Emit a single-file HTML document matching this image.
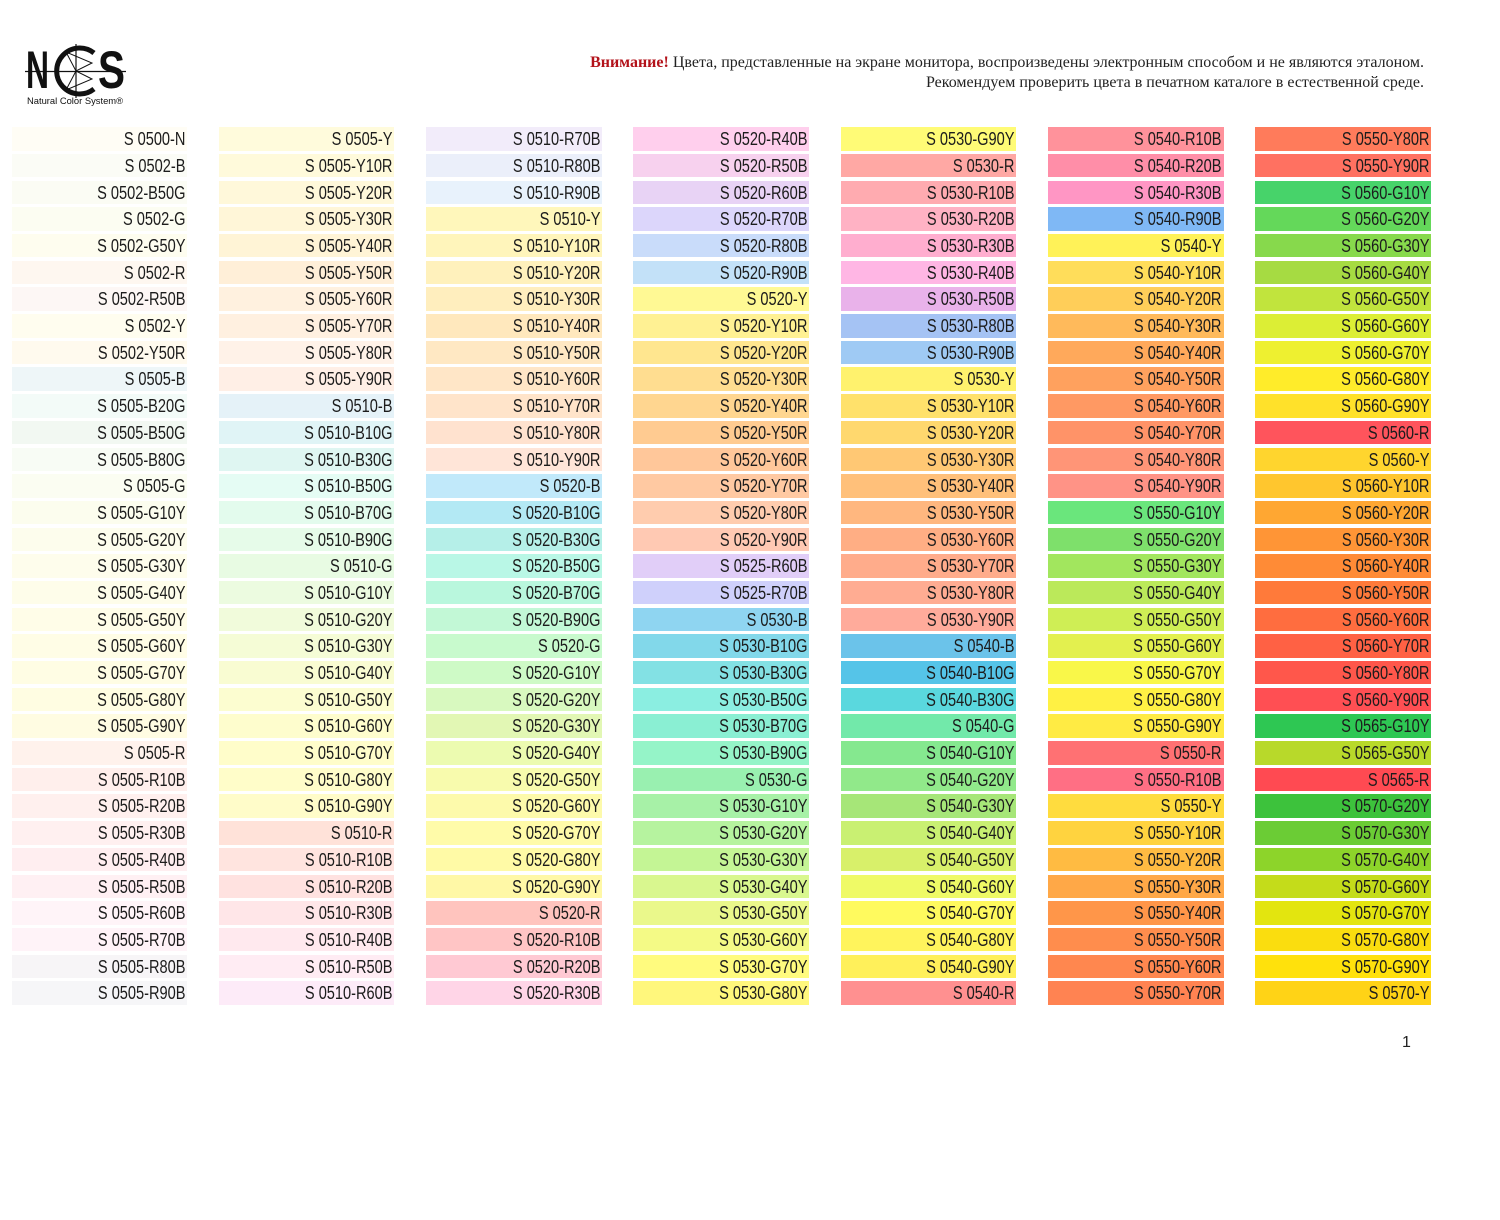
<!DOCTYPE html>
<html><head><meta charset="utf-8">
<style>
html,body{margin:0;padding:0;background:#fff;}
body{width:1500px;height:1220px;position:relative;overflow:hidden;font-family:"Liberation Sans",Arial,sans-serif;}
.col{position:absolute;top:127.3px;width:175.5px;}
.col div{height:23.4px;margin-bottom:3.3px;text-align:right;line-height:23.4px;font-size:18px;color:#1c1c1c;white-space:nowrap;overflow:visible;}
.col div span{display:inline-block;transform:scaleX(0.81);transform-origin:right center;padding-right:2px;position:relative;top:1px;}
#warn{position:absolute;right:76px;top:53px;font-family:"Liberation Serif","Times New Roman",serif;font-size:16px;color:#222;text-align:right;line-height:19.5px;}
#warn b{color:#b3131b;}
#pg{position:absolute;left:1402px;top:1034px;font-size:16px;color:#222;}
</style></head><body>
<svg style="position:absolute;left:0;top:0" width="140" height="115">
<g fill="none" stroke="#111">
<path d="M94 53 A23 23 0 1 0 94 89" stroke-width="5"/>
<line x1="25" y1="71.5" x2="126" y2="71.5" stroke-width="1.2"/>
<line x1="76" y1="44" x2="76" y2="98" stroke-width="1.2"/>
<path d="M76 71 L66 52 L92 63 Z M76 71 L66 90 L92 79 Z" stroke-width="1"/>
</g>
<text x="26" y="88" font-family="Liberation Sans" font-weight="bold" font-size="53" textLength="23" lengthAdjust="spacingAndGlyphs" fill="#111">N</text>
<text x="98" y="88" font-family="Liberation Sans" font-weight="bold" font-size="53" textLength="27" lengthAdjust="spacingAndGlyphs" fill="#111">S</text>
<text x="27" y="104" font-family="Liberation Sans" font-size="9.5" textLength="96" lengthAdjust="spacingAndGlyphs" fill="#111">Natural Color System®</text>
</svg>
<div id="warn"><b>Внимание!</b> Цвета, представленные на экране монитора, воспроизведены электронным способом и не являются эталоном.<br>Рекомендуем проверить цвета в печатном каталоге в естественной среде.</div>

<div class="col" style="left:11.5px">
<div style="background:#fffdf5"><span>S 0500-N</span></div>
<div style="background:#fbfcf6"><span>S 0502-B</span></div>
<div style="background:#fbfcf4"><span>S 0502-B50G</span></div>
<div style="background:#fcfdf2"><span>S 0502-G</span></div>
<div style="background:#fefdef"><span>S 0502-G50Y</span></div>
<div style="background:#fef7f0"><span>S 0502-R</span></div>
<div style="background:#fdf7f5"><span>S 0502-R50B</span></div>
<div style="background:#fffdef"><span>S 0502-Y</span></div>
<div style="background:#fffaee"><span>S 0502-Y50R</span></div>
<div style="background:#eef6f8"><span>S 0505-B</span></div>
<div style="background:#f3fbf8"><span>S 0505-B20G</span></div>
<div style="background:#f2f8f2"><span>S 0505-B50G</span></div>
<div style="background:#f8fcf5"><span>S 0505-B80G</span></div>
<div style="background:#fbfdf2"><span>S 0505-G</span></div>
<div style="background:#fcfdee"><span>S 0505-G10Y</span></div>
<div style="background:#fdfded"><span>S 0505-G20Y</span></div>
<div style="background:#fefdec"><span>S 0505-G30Y</span></div>
<div style="background:#fefdea"><span>S 0505-G40Y</span></div>
<div style="background:#fffde8"><span>S 0505-G50Y</span></div>
<div style="background:#fffde6"><span>S 0505-G60Y</span></div>
<div style="background:#fffde4"><span>S 0505-G70Y</span></div>
<div style="background:#fffde2"><span>S 0505-G80Y</span></div>
<div style="background:#fffce2"><span>S 0505-G90Y</span></div>
<div style="background:#fff2ec"><span>S 0505-R</span></div>
<div style="background:#ffefec"><span>S 0505-R10B</span></div>
<div style="background:#fff0ee"><span>S 0505-R20B</span></div>
<div style="background:#fff0f0"><span>S 0505-R30B</span></div>
<div style="background:#ffeef0"><span>S 0505-R40B</span></div>
<div style="background:#fff0f3"><span>S 0505-R50B</span></div>
<div style="background:#fff4f8"><span>S 0505-R60B</span></div>
<div style="background:#fff3f8"><span>S 0505-R70B</span></div>
<div style="background:#f7f5f7"><span>S 0505-R80B</span></div>
<div style="background:#f6f6f8"><span>S 0505-R90B</span></div>
</div>

<div class="col" style="left:218.8px">
<div style="background:#fffbdc"><span>S 0505-Y</span></div>
<div style="background:#fffadb"><span>S 0505-Y10R</span></div>
<div style="background:#fff8da"><span>S 0505-Y20R</span></div>
<div style="background:#fff6d8"><span>S 0505-Y30R</span></div>
<div style="background:#fff4d6"><span>S 0505-Y40R</span></div>
<div style="background:#ffefd8"><span>S 0505-Y50R</span></div>
<div style="background:#fff1df"><span>S 0505-Y60R</span></div>
<div style="background:#fff0e0"><span>S 0505-Y70R</span></div>
<div style="background:#fff2e8"><span>S 0505-Y80R</span></div>
<div style="background:#ffefe6"><span>S 0505-Y90R</span></div>
<div style="background:#e5f2f8"><span>S 0510-B</span></div>
<div style="background:#e0f4f6"><span>S 0510-B10G</span></div>
<div style="background:#dff6f2"><span>S 0510-B30G</span></div>
<div style="background:#e5fcf4"><span>S 0510-B50G</span></div>
<div style="background:#e3fbed"><span>S 0510-B70G</span></div>
<div style="background:#e6fbe9"><span>S 0510-B90G</span></div>
<div style="background:#e8fbe3"><span>S 0510-G</span></div>
<div style="background:#ecfbe0"><span>S 0510-G10Y</span></div>
<div style="background:#f1fbdb"><span>S 0510-G20Y</span></div>
<div style="background:#f5fcd6"><span>S 0510-G30Y</span></div>
<div style="background:#f9fcd2"><span>S 0510-G40Y</span></div>
<div style="background:#fcfdd0"><span>S 0510-G50Y</span></div>
<div style="background:#fefdcd"><span>S 0510-G60Y</span></div>
<div style="background:#fffdca"><span>S 0510-G70Y</span></div>
<div style="background:#fffdc9"><span>S 0510-G80Y</span></div>
<div style="background:#fffcc9"><span>S 0510-G90Y</span></div>
<div style="background:#ffe2d9"><span>S 0510-R</span></div>
<div style="background:#ffe4df"><span>S 0510-R10B</span></div>
<div style="background:#ffe2e0"><span>S 0510-R20B</span></div>
<div style="background:#ffe6e8"><span>S 0510-R30B</span></div>
<div style="background:#ffe9ee"><span>S 0510-R40B</span></div>
<div style="background:#ffecf3"><span>S 0510-R50B</span></div>
<div style="background:#fdebf8"><span>S 0510-R60B</span></div>
</div>

<div class="col" style="left:426.1px">
<div style="background:#f2ecfa"><span>S 0510-R70B</span></div>
<div style="background:#ebeffa"><span>S 0510-R80B</span></div>
<div style="background:#e8f2fc"><span>S 0510-R90B</span></div>
<div style="background:#fff7bb"><span>S 0510-Y</span></div>
<div style="background:#fff5bb"><span>S 0510-Y10R</span></div>
<div style="background:#fff1bc"><span>S 0510-Y20R</span></div>
<div style="background:#ffeebe"><span>S 0510-Y30R</span></div>
<div style="background:#ffe8bd"><span>S 0510-Y40R</span></div>
<div style="background:#ffe8c3"><span>S 0510-Y50R</span></div>
<div style="background:#ffe6c7"><span>S 0510-Y60R</span></div>
<div style="background:#ffe4ca"><span>S 0510-Y70R</span></div>
<div style="background:#ffe2cf"><span>S 0510-Y80R</span></div>
<div style="background:#ffe5d8"><span>S 0510-Y90R</span></div>
<div style="background:#c1e9fa"><span>S 0520-B</span></div>
<div style="background:#b3e9f4"><span>S 0520-B10G</span></div>
<div style="background:#b5efe8"><span>S 0520-B30G</span></div>
<div style="background:#b9f7e6"><span>S 0520-B50G</span></div>
<div style="background:#b9f7dd"><span>S 0520-B70G</span></div>
<div style="background:#c2f8d6"><span>S 0520-B90G</span></div>
<div style="background:#c8facd"><span>S 0520-G</span></div>
<div style="background:#cefac6"><span>S 0520-G10Y</span></div>
<div style="background:#d8f9bf"><span>S 0520-G20Y</span></div>
<div style="background:#e2f7b4"><span>S 0520-G30Y</span></div>
<div style="background:#ecfbb0"><span>S 0520-G40Y</span></div>
<div style="background:#f8fbad"><span>S 0520-G50Y</span></div>
<div style="background:#fdfaab"><span>S 0520-G60Y</span></div>
<div style="background:#fffba9"><span>S 0520-G70Y</span></div>
<div style="background:#fffaa6"><span>S 0520-G80Y</span></div>
<div style="background:#fff8a6"><span>S 0520-G90Y</span></div>
<div style="background:#ffc4be"><span>S 0520-R</span></div>
<div style="background:#ffc5c5"><span>S 0520-R10B</span></div>
<div style="background:#ffc9d3"><span>S 0520-R20B</span></div>
<div style="background:#ffd5e7"><span>S 0520-R30B</span></div>
</div>

<div class="col" style="left:633.4px">
<div style="background:#ffcfed"><span>S 0520-R40B</span></div>
<div style="background:#f7d1ee"><span>S 0520-R50B</span></div>
<div style="background:#e8d3f5"><span>S 0520-R60B</span></div>
<div style="background:#dcd6fb"><span>S 0520-R70B</span></div>
<div style="background:#c9dcfa"><span>S 0520-R80B</span></div>
<div style="background:#c3e1f8"><span>S 0520-R90B</span></div>
<div style="background:#fff994"><span>S 0520-Y</span></div>
<div style="background:#fff193"><span>S 0520-Y10R</span></div>
<div style="background:#ffe68f"><span>S 0520-Y20R</span></div>
<div style="background:#ffdd90"><span>S 0520-Y30R</span></div>
<div style="background:#ffd690"><span>S 0520-Y40R</span></div>
<div style="background:#ffcb91"><span>S 0520-Y50R</span></div>
<div style="background:#ffc79a"><span>S 0520-Y60R</span></div>
<div style="background:#ffc9a2"><span>S 0520-Y70R</span></div>
<div style="background:#ffccae"><span>S 0520-Y80R</span></div>
<div style="background:#ffc9b3"><span>S 0520-Y90R</span></div>
<div style="background:#e1cef8"><span>S 0525-R60B</span></div>
<div style="background:#cfd0fb"><span>S 0525-R70B</span></div>
<div style="background:#8fd5f1"><span>S 0530-B</span></div>
<div style="background:#82d8ea"><span>S 0530-B10G</span></div>
<div style="background:#83e1e4"><span>S 0530-B30G</span></div>
<div style="background:#8beee1"><span>S 0530-B50G</span></div>
<div style="background:#8aefd3"><span>S 0530-B70G</span></div>
<div style="background:#95f4c8"><span>S 0530-B90G</span></div>
<div style="background:#99f0b0"><span>S 0530-G</span></div>
<div style="background:#a7f1a7"><span>S 0530-G10Y</span></div>
<div style="background:#b6f39f"><span>S 0530-G20Y</span></div>
<div style="background:#c4f595"><span>S 0530-G30Y</span></div>
<div style="background:#d9f78f"><span>S 0530-G40Y</span></div>
<div style="background:#eaf88b"><span>S 0530-G50Y</span></div>
<div style="background:#f4fa86"><span>S 0530-G60Y</span></div>
<div style="background:#fffb7e"><span>S 0530-G70Y</span></div>
<div style="background:#fff77c"><span>S 0530-G80Y</span></div>
</div>

<div class="col" style="left:840.7px">
<div style="background:#fffb76"><span>S 0530-G90Y</span></div>
<div style="background:#ffa8a4"><span>S 0530-R</span></div>
<div style="background:#ffabb0"><span>S 0530-R10B</span></div>
<div style="background:#ffb2c4"><span>S 0530-R20B</span></div>
<div style="background:#ffaecf"><span>S 0530-R30B</span></div>
<div style="background:#ffb6e4"><span>S 0530-R40B</span></div>
<div style="background:#e9b2ea"><span>S 0530-R50B</span></div>
<div style="background:#a5c3f4"><span>S 0530-R80B</span></div>
<div style="background:#9fcaf4"><span>S 0530-R90B</span></div>
<div style="background:#fff26d"><span>S 0530-Y</span></div>
<div style="background:#ffe16b"><span>S 0530-Y10R</span></div>
<div style="background:#ffd86e"><span>S 0530-Y20R</span></div>
<div style="background:#ffc874"><span>S 0530-Y30R</span></div>
<div style="background:#ffc07a"><span>S 0530-Y40R</span></div>
<div style="background:#ffb77f"><span>S 0530-Y50R</span></div>
<div style="background:#ffae84"><span>S 0530-Y60R</span></div>
<div style="background:#ffac8b"><span>S 0530-Y70R</span></div>
<div style="background:#ffac92"><span>S 0530-Y80R</span></div>
<div style="background:#ffab9b"><span>S 0530-Y90R</span></div>
<div style="background:#6bc3ea"><span>S 0540-B</span></div>
<div style="background:#55c4e8"><span>S 0540-B10G</span></div>
<div style="background:#5ad8de"><span>S 0540-B30G</span></div>
<div style="background:#72e9aa"><span>S 0540-G</span></div>
<div style="background:#85e88f"><span>S 0540-G10Y</span></div>
<div style="background:#91e98a"><span>S 0540-G20Y</span></div>
<div style="background:#a6e678"><span>S 0540-G30Y</span></div>
<div style="background:#c9f072"><span>S 0540-G40Y</span></div>
<div style="background:#d8f06a"><span>S 0540-G50Y</span></div>
<div style="background:#effa66"><span>S 0540-G60Y</span></div>
<div style="background:#fffa5e"><span>S 0540-G70Y</span></div>
<div style="background:#fff45c"><span>S 0540-G80Y</span></div>
<div style="background:#fff05a"><span>S 0540-G90Y</span></div>
<div style="background:#ff9090"><span>S 0540-R</span></div>
</div>

<div class="col" style="left:1048px">
<div style="background:#ff929b"><span>S 0540-R10B</span></div>
<div style="background:#ff8ea8"><span>S 0540-R20B</span></div>
<div style="background:#ff96c4"><span>S 0540-R30B</span></div>
<div style="background:#7fb8f5"><span>S 0540-R90B</span></div>
<div style="background:#fff258"><span>S 0540-Y</span></div>
<div style="background:#ffdd5a"><span>S 0540-Y10R</span></div>
<div style="background:#ffce59"><span>S 0540-Y20R</span></div>
<div style="background:#ffba5b"><span>S 0540-Y30R</span></div>
<div style="background:#ffa95b"><span>S 0540-Y40R</span></div>
<div style="background:#ffa15e"><span>S 0540-Y50R</span></div>
<div style="background:#ff9963"><span>S 0540-Y60R</span></div>
<div style="background:#ff9368"><span>S 0540-Y70R</span></div>
<div style="background:#ff9577"><span>S 0540-Y80R</span></div>
<div style="background:#ff9386"><span>S 0540-Y90R</span></div>
<div style="background:#6ae67c"><span>S 0550-G10Y</span></div>
<div style="background:#7ee06b"><span>S 0550-G20Y</span></div>
<div style="background:#a2e65e"><span>S 0550-G30Y</span></div>
<div style="background:#bbe95a"><span>S 0550-G40Y</span></div>
<div style="background:#cfee55"><span>S 0550-G50Y</span></div>
<div style="background:#e3f04f"><span>S 0550-G60Y</span></div>
<div style="background:#f9f749"><span>S 0550-G70Y</span></div>
<div style="background:#fff144"><span>S 0550-G80Y</span></div>
<div style="background:#ffeb44"><span>S 0550-G90Y</span></div>
<div style="background:#ff7173"><span>S 0550-R</span></div>
<div style="background:#ff6f84"><span>S 0550-R10B</span></div>
<div style="background:#ffdc3e"><span>S 0550-Y</span></div>
<div style="background:#ffd33f"><span>S 0550-Y10R</span></div>
<div style="background:#ffbb42"><span>S 0550-Y20R</span></div>
<div style="background:#ffa847"><span>S 0550-Y30R</span></div>
<div style="background:#ff9649"><span>S 0550-Y40R</span></div>
<div style="background:#ff8d4d"><span>S 0550-Y50R</span></div>
<div style="background:#ff874f"><span>S 0550-Y60R</span></div>
<div style="background:#ff8352"><span>S 0550-Y70R</span></div>
</div>

<div class="col" style="left:1255.3px">
<div style="background:#ff7b5b"><span>S 0550-Y80R</span></div>
<div style="background:#ff7161"><span>S 0550-Y90R</span></div>
<div style="background:#47d36a"><span>S 0560-G10Y</span></div>
<div style="background:#64d85a"><span>S 0560-G20Y</span></div>
<div style="background:#87d94c"><span>S 0560-G30Y</span></div>
<div style="background:#a6db42"><span>S 0560-G40Y</span></div>
<div style="background:#c1e43d"><span>S 0560-G50Y</span></div>
<div style="background:#dcee35"><span>S 0560-G60Y</span></div>
<div style="background:#eef030"><span>S 0560-G70Y</span></div>
<div style="background:#ffec2a"><span>S 0560-G80Y</span></div>
<div style="background:#ffe12a"><span>S 0560-G90Y</span></div>
<div style="background:#ff545c"><span>S 0560-R</span></div>
<div style="background:#ffd52e"><span>S 0560-Y</span></div>
<div style="background:#ffc62e"><span>S 0560-Y10R</span></div>
<div style="background:#ffa732"><span>S 0560-Y20R</span></div>
<div style="background:#ff9536"><span>S 0560-Y30R</span></div>
<div style="background:#ff8b36"><span>S 0560-Y40R</span></div>
<div style="background:#ff7a3a"><span>S 0560-Y50R</span></div>
<div style="background:#ff6d3f"><span>S 0560-Y60R</span></div>
<div style="background:#ff6144"><span>S 0560-Y70R</span></div>
<div style="background:#ff574b"><span>S 0560-Y80R</span></div>
<div style="background:#ff4f53"><span>S 0560-Y90R</span></div>
<div style="background:#2ec753"><span>S 0565-G10Y</span></div>
<div style="background:#b8d92a"><span>S 0565-G50Y</span></div>
<div style="background:#ff4a52"><span>S 0565-R</span></div>
<div style="background:#3dc23c"><span>S 0570-G20Y</span></div>
<div style="background:#6bcc35"><span>S 0570-G30Y</span></div>
<div style="background:#8dd42a"><span>S 0570-G40Y</span></div>
<div style="background:#c4dc1a"><span>S 0570-G60Y</span></div>
<div style="background:#e3e50f"><span>S 0570-G70Y</span></div>
<div style="background:#fadd0f"><span>S 0570-G80Y</span></div>
<div style="background:#ffe10c"><span>S 0570-G90Y</span></div>
<div style="background:#ffd316"><span>S 0570-Y</span></div>
</div>

<div id="pg">1</div>
</body></html>
